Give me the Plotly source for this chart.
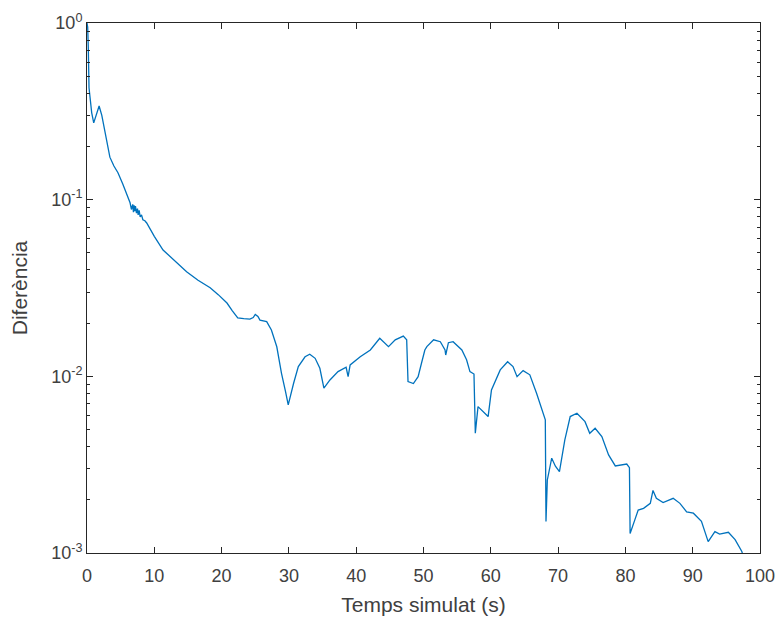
import plotly.graph_objects as go

# Simulated time (s) and difference between the two solutions
temps = [0.0, 0.1, 0.19, 0.3, 0.45, 0.7, 1.0, 1.4, 1.8, 2.2, 2.8, 3.4, 4.0, 4.6,
         5.3, 6.0, 6.4, 6.6, 6.8, 6.9, 7.0, 7.1, 7.2, 7.35, 7.5, 7.6, 7.75, 7.9, 8.1, 8.3, 8.6, 8.87,
         10.0, 11.3, 13.0, 14.8, 16.5, 18.3, 19.5, 20.8, 21.6, 22.4, 23.3, 24.2, 24.7, 25.0, 25.4, 25.7,
         26.7, 27.4, 28.2, 28.9, 29.5, 29.9, 30.7, 31.4, 32.4, 33.1, 33.9, 34.6, 35.2,
         36.1, 37.3, 38.5, 38.8, 39.1, 40.6, 42.1, 43.5, 44.8, 45.8, 47.0, 47.5,
         47.7, 48.5, 49.2, 49.7, 50.2, 50.5, 51.5, 52.5, 53.2, 53.3, 53.7, 54.4, 55.7, 56.4, 56.9,
         57.5, 57.7, 58.1, 58.9, 59.6, 60.1, 61.4, 62.5, 63.3, 63.9, 64.8, 65.8, 66.8,
         68.1, 68.2, 68.4, 69.05, 69.6, 70.2, 71.0, 71.8, 72.8, 74.0, 74.7, 75.5,
         76.5, 77.5, 78.5, 80.2, 80.6, 80.7, 81.4, 81.9, 82.7, 83.7, 84.1, 84.6,
         85.6, 87.1, 88.1, 89.1, 90.1, 91.3, 92.3, 93.3, 94.0, 95.3, 96.3, 97.3, 97.8]
diferencia = [1.0, 0.95, 0.73, 0.43, 0.38, 0.31, 0.272, 0.30, 0.339, 0.30, 0.23, 0.174, 0.155, 0.142,
              0.123, 0.104, 0.096, 0.088, 0.094, 0.085, 0.093, 0.086, 0.092, 0.084, 0.089, 0.082, 0.087, 0.080, 0.082, 0.077, 0.076, 0.0738,
              0.062, 0.0519, 0.0450, 0.0391, 0.0350, 0.0317, 0.0290, 0.0260, 0.0235, 0.0214, 0.0212, 0.0211, 0.0215, 0.0224, 0.0218, 0.0208,
              0.0204, 0.0183, 0.0147, 0.0104, 0.0082, 0.00689, 0.00914, 0.01135, 0.0129, 0.01334, 0.01265, 0.0111, 0.00857,
              0.00954, 0.01064, 0.01125, 0.00996, 0.0116, 0.0129, 0.0141, 0.01643, 0.01472, 0.0161, 0.0169, 0.0161,
              0.00933, 0.0091, 0.00996, 0.01186, 0.0141, 0.01472, 0.0161, 0.0157, 0.0141, 0.0132, 0.0155, 0.0157, 0.0141, 0.0124, 0.01064,
              0.0103, 0.00476, 0.00674, 0.00631, 0.00592, 0.00838, 0.01087, 0.0121, 0.01135, 0.00996, 0.01077, 0.0102, 0.00802,
              0.00567, 0.00151, 0.00259, 0.00344, 0.0031, 0.00289, 0.00437, 0.00592, 0.00618, 0.00554, 0.00476, 0.00508,
              0.00456, 0.00359, 0.00311, 0.00319, 0.00304, 0.00129, 0.00154, 0.00175, 0.00179, 0.00191, 0.00226, 0.00204,
              0.00193, 0.00204, 0.00191, 0.00171, 0.00168, 0.00151, 0.00116, 0.00132, 0.00128, 0.00131, 0.00119, 0.00102, 0.00088]

x_ticks = [0, 10, 20, 30, 40, 50, 60, 70, 80, 90, 100]
y_ticks = [1e-3, 1e-2, 1e-1, 1e0]
y_tick_labels = ["10<sup>-3</sup>", "10<sup>-2</sup>", "10<sup>-1</sup>", "10<sup>0</sup>"]

# intermediate decade ticks (2..9 x 10^n)
minor_y = [m * 10 ** e for e in (-3, -2, -1) for m in range(2, 10)]

axis_color = "#262626"
text_color = "#404040"
font = dict(family="Liberation Sans, Arial, sans-serif", size=18, color=text_color)

fig = go.Figure()
fig.add_trace(go.Scatter(x=temps, y=diferencia, mode="lines",
                         line=dict(color="#0072BD", width=1.3), showlegend=False))
# same series on the overlay axis (kept invisible) so the minor-tick axis gets drawn
fig.add_trace(go.Scatter(x=temps, y=diferencia, mode="lines", yaxis="y2",
                         line=dict(color="rgba(0,0,0,0)", width=0), showlegend=False,
                         hoverinfo="skip"))

common = dict(ticks="inside", tickcolor=axis_color, tickwidth=1,
              showline=True, linecolor=axis_color, linewidth=1, mirror="ticks",
              showgrid=False, zeroline=False, automargin=False)

fig.update_layout(
    width=779, height=621,
    margin=dict(l=87, r=19, t=23, b=68),
    paper_bgcolor="white", plot_bgcolor="white",
    font=font,
    xaxis=dict(
        range=[0, 100], tickvals=x_ticks, ticktext=[str(v) for v in x_ticks],
        ticklen=6, ticklabelstandoff=6,
        title=dict(text="Temps simulat (s)", font=dict(size=21, color=text_color), standoff=12),
        **common,
    ),
    yaxis=dict(
        type="log", range=[-3, 0], tickvals=y_ticks, ticktext=y_tick_labels,
        ticklen=6,
        title=dict(text="Diferència", font=dict(size=21, color=text_color), standoff=17),
        **common,
    ),
    yaxis2=dict(
        type="log", range=[-3, 0], overlaying="y", side="left", anchor="x",
        tickvals=minor_y, ticklen=3, showticklabels=False,
        **common,
    ),
)

fig.write_html("out.html")
